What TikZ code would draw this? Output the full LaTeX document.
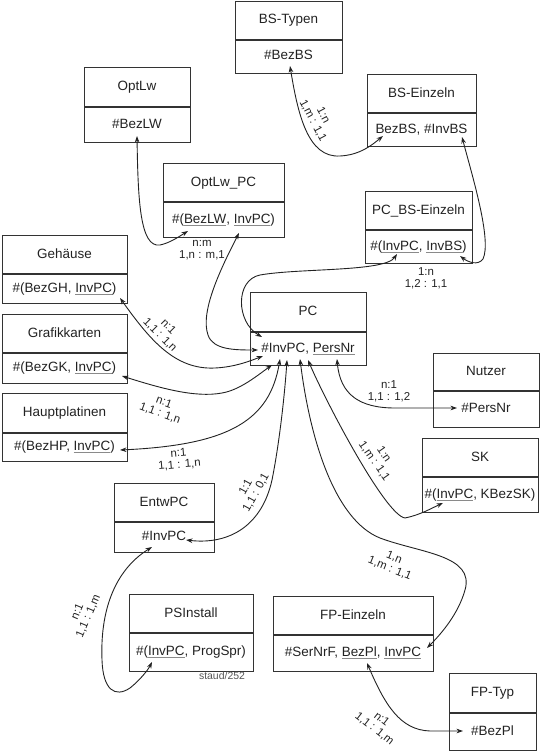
\documentclass[tikz,border=0pt]{standalone}
\usepackage{fontspec}
\setmainfont{Liberation Sans}
\usetikzlibrary{arrows.meta}
\definecolor{ink}{HTML}{222222}
\definecolor{boxc}{HTML}{333333}
\definecolor{ulgray}{HTML}{8A8A8A}
\definecolor{signc}{HTML}{555555}
\newcommand\myul[1]{\setbox0=\hbox{#1}\rlap{\textcolor{ulgray}{\rule[-2.4bp]{\wd0}{0.7bp}}}\box0}
\newcommand\erbox[8]{%
  \pgfmathsetmacro\bw{#4-#2}\pgfmathsetmacro\bh{#5-#3}%
  \node[entity, minimum width=\bw bp, minimum height=\bh bp, anchor=north west] (#1) at (#2,#3) {};
  \draw[boxline] (#2,#6) -- (#4,#6);
  \node[txt] (#1-h) at ({(#2+#4)/2},{(#3+#6)/2}) {#7};
  \node[txt] (#1-a) at ({(#2+#4)/2},{(#6+#5)/2}) {#8};
}
\tikzset{
  entity/.style={draw=boxc, line width=1.1bp, inner sep=0pt},
  boxline/.style={draw=boxc, line width=1.1bp},
  txt/.style={font=\fontsize{13.5}{16}\selectfont, text=ink, inner sep=0pt, text height=9.6bp, text depth=2.6bp},
  card/.style={font=\fontsize{11.5}{11.8}\selectfont, text=ink, align=center, inner sep=0pt},
  rel/.style={draw=ink, line width=0.9bp, arrows={Stealth[length=6.5bp,width=4.6bp]-Stealth[length=6.5bp,width=4.6bp]}},
}
\begin{document}
\begin{tikzpicture}[x=1bp,y=-1bp]
\useasboundingbox (0,0) rectangle (540,751);
% entities
\erbox{bst}{235}{1}{342}{73}{40}{BS-Typen}{\#BezBS}
\erbox{bse}{367}{74}{476}{146}{113}{BS-Einzeln}{BezBS, \#InvBS}
\erbox{olw}{84}{67}{190}{142}{107}{OptLw}{\#BezLW}
\erbox{olp}{163}{163}{284}{237}{202}{OptLw\_PC}{\#(\myul{BezLW}, \myul{InvPC})}
\erbox{pcb}{365}{191}{472}{263}{230}{PC\_BS-Einzeln}{\#(\myul{InvPC}, \myul{InvBS})}
\erbox{geh}{2}{235}{127}{303}{274}{Gehäuse}{\#(BezGH, \myul{InvPC})}
\erbox{gra}{2}{314}{127}{383}{353}{Grafikkarten}{\#(BezGK, \myul{InvPC})}
\erbox{hpl}{2}{393}{127}{461}{433}{Hauptplatinen}{\#(BezHP, \myul{InvPC})}
\erbox{pc}{250}{292}{366}{365}{332}{PC}{\#InvPC, \myul{PersNr}}
\erbox{nut}{433}{353}{539}{427}{391}{Nutzer}{\#PersNr}
\erbox{sk}{422}{438}{538}{512}{477}{SK}{\#(\myul{InvPC}, KBezSK)}
\erbox{ent}{114}{483}{214}{552}{522}{EntwPC}{\#InvPC}
\erbox{psi}{129}{594}{253}{671}{633}{PSInstall}{\#(\myul{InvPC}, ProgSpr)}
\erbox{fpe}{273}{596}{433}{671}{635}{FP-Einzeln}{\#SerNrF, \myul{BezPl}, \myul{InvPC}}
\erbox{fpt}{449}{673}{536}{750}{713}{FP-Typ}{\#BezPl}
\node[font=\fontsize{10.5}{12}\selectfont, text=signc, inner sep=0pt] (sign) at (222,676) {staud/252};
% connector end points
\coordinate (bstA) at (290,66);
\coordinate (bseA) at (383,136);
\coordinate (bseB) at (462,137);
\coordinate (olwA) at (137,136);
\coordinate (olpA) at (188,231);
\coordinate (olpB) at (239,233);
\coordinate (pcbA) at (397,254);
\coordinate (pcbB) at (460,256);
\coordinate (gehA) at (120,298);
\coordinate (graA) at (122,376);
\coordinate (hplA) at (120,450);
\coordinate (pcO) at (258,350);
\coordinate (pcB) at (262,337);
\coordinate (pcG) at (263,356);
\coordinate (pcK) at (272,365);
\coordinate (pcH) at (280,359);
\coordinate (pcE) at (287,360);
\coordinate (pcF) at (300,359);
\coordinate (pcS) at (308,360);
\coordinate (pcN) at (337,359);
\coordinate (nutA) at (457,408);
\coordinate (skA) at (443,503);
\coordinate (entA) at (186,540);
\coordinate (entB) at (152,547);
\coordinate (psiA) at (152,662);
\coordinate (fpeA) at (427,648);
\coordinate (fpeB) at (367,663);
\coordinate (fptA) at (463,731);
% connectors
\draw[rel] (bstA) .. controls (298,115) and (308,158) .. (340,156) .. controls (360,155) and (372,145) .. (bseA);
\draw[rel] (olwA) .. controls (138,200) and (140,248) .. (160,245) .. controls (170,243) and (180,236) .. (olpA);
\draw[rel] (olpB) .. controls (220,270) and (200,312) .. (208,335) .. controls (213,350) and (235,350) .. (pcO);
\draw[rel] (pcbA) .. controls (385,272) and (300,268) .. (260,275) .. controls (235,280) and (236,322) .. (pcB);
\draw[rel] (bseB) .. controls (472,175) and (492,240) .. (483,259) .. controls (478,266) and (468,262) .. (pcbB);
\draw[rel] (gehA) .. controls (150,340) and (175,370) .. (215,368) .. controls (235,367) and (250,361) .. (pcG);
\draw[rel] (graA) .. controls (160,388) and (195,398) .. (222,393) .. controls (240,390) and (258,375) .. (pcK);
\draw[rel] (hplA) .. controls (230,445) and (270,420) .. (pcH);
\draw[rel] (entA) .. controls (230,545) and (262,525) .. (272,480) .. controls (280,440) and (285,390) .. (pcE);
\draw[rel] (pcS) .. controls (325,400) and (385,515) .. (405,518) .. controls (420,515) and (432,508) .. (skA);
\draw[rel] (pcF) .. controls (310,440) and (335,520) .. (380,538) .. controls (420,553) and (475,555) .. (465,590) .. controls (458,615) and (440,635) .. (fpeA);
\draw[rel] (pcN) .. controls (340,395) and (360,408) .. (395,408) -- (nutA);
\draw[rel] (entB) .. controls (115,570) and (100,610) .. (102,660) .. controls (103,690) and (115,698) .. (130,688) .. controls (140,680) and (148,670) .. (psiA);
\draw[rel] (fpeB) .. controls (385,705) and (400,730) .. (430,731) -- (fptA);
% cardinalities
\node[card, rotate=-62] (c1) at (318,118) {1:n\\1,m : 1,1};
\node[card] (c2) at (202,250) {n:m\\1,n : m,1};
\node[card] (c3) at (426,278) {1:n\\1,2 : 1,1};
\node[card, rotate=-45] (c4) at (164,331) {n:1\\1,1 : 1,n};
\node[card, rotate=-20] (c5) at (162,408) {n:1\\1,1 : 1,n};
\node[card, rotate=5] (c6) at (179,459) {n:1\\1,1 : 1,n};
\node[card] (c7) at (389,391) {n:1\\1,1 : 1,2};
\node[card, rotate=61] (c8) at (251,490) {1:1\\1,1 : 0,1};
\node[card, rotate=-55] (c9) at (379,458) {1:n\\1,m : 1,1};
\node[card, rotate=-22] (c10) at (392,563) {1,n\\1,m : 1,1};
\node[card, rotate=67] (c11) at (83,614) {n:1\\1,1 : 1,m};
\node[card, rotate=-38] (c12) at (378,724) {n:1\\1,1 : 1,m};
\end{tikzpicture}
\end{document}
